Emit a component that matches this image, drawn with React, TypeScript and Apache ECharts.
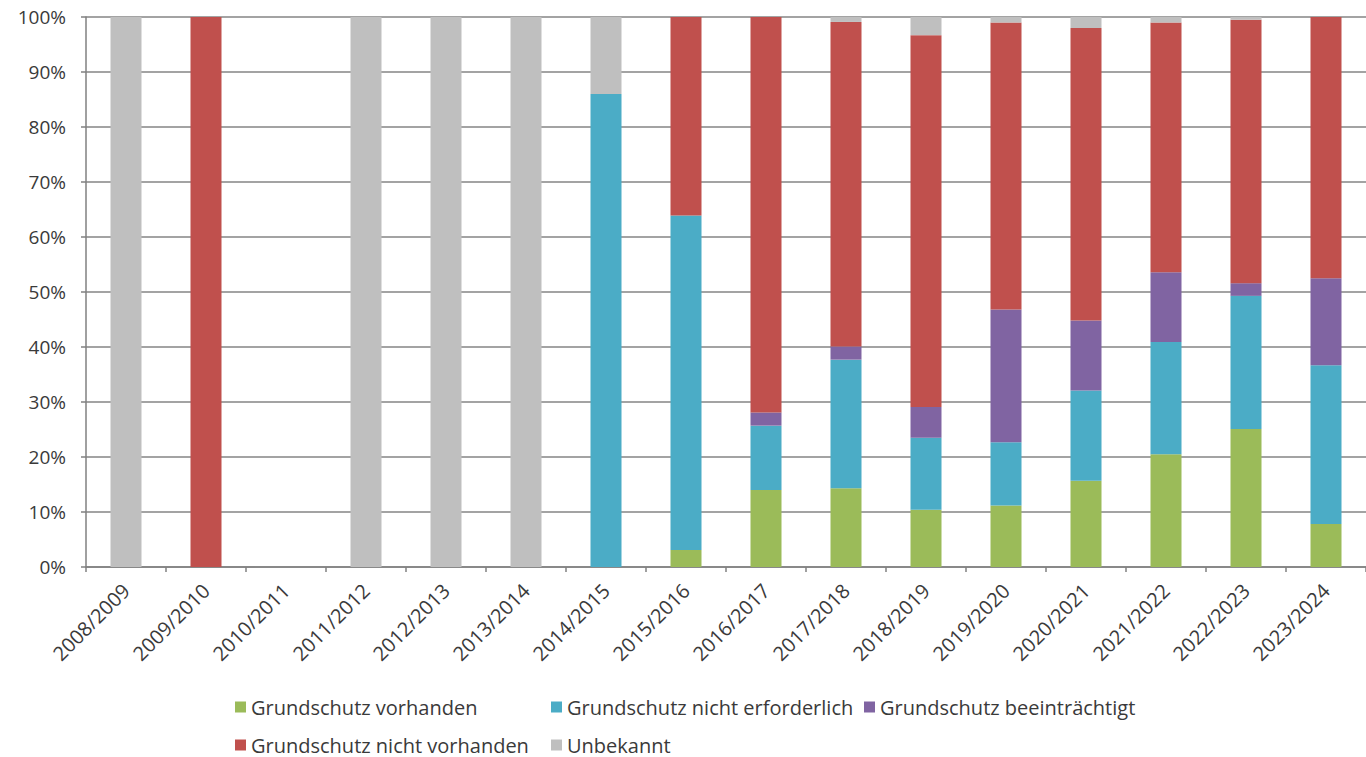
import React, { useEffect, useRef } from "react";
import * as echarts from "echarts";

const categories = [
  "2008/2009", "2009/2010", "2010/2011", "2011/2012", "2012/2013", "2013/2014",
  "2014/2015", "2015/2016", "2016/2017", "2017/2018", "2018/2019", "2019/2020",
  "2020/2021", "2021/2022", "2022/2023", "2023/2024",
];

const vorhanden = [0, 0, 0, 0, 0, 0, 0, 3.1, 14.0, 14.3, 10.4, 11.2, 15.7, 20.5, 25.1, 7.8];
const nichtErforderlich = [0, 0, 0, 0, 0, 0, 86.0, 60.8, 11.7, 23.4, 13.1, 11.5, 16.4, 20.4, 24.2, 28.9];
const beeintraechtigt = [0, 0, 0, 0, 0, 0, 0, 0, 2.4, 2.4, 5.6, 24.1, 12.7, 12.7, 2.3, 15.8];
const nichtVorhanden = [0, 100, 0, 0, 0, 0, 0, 36.1, 71.9, 59.0, 67.6, 52.2, 53.2, 45.4, 47.9, 47.5];
const unbekannt = [100, 0, 0, 100, 100, 100, 14.0, 0, 0, 0.9, 3.3, 1.0, 2.0, 1.0, 0.5, 0];

const seriesNames = [
  "Grundschutz vorhanden",
  "Grundschutz nicht erforderlich",
  "Grundschutz beeinträchtigt",
  "Grundschutz nicht vorhanden",
  "Unbekannt",
];
const seriesColors = ["#9BBB59", "#4BACC6", "#8064A2", "#C0504D", "#BFBFBF"];
const seriesData = [vorhanden, nichtErforderlich, beeintraechtigt, nichtVorhanden, unbekannt];

const FONT = "'Open Sans', sans-serif";
const TEXT = "#3a3a3a";

const legendPos = [
  { left: 235, top: 697 },
  { left: 551, top: 697 },
  { left: 864, top: 697 },
  { left: 235, top: 735 },
  { left: 551, top: 735 },
];

export default function App() {
  const ref = useRef<HTMLDivElement>(null);
  useEffect(() => {
    if (!ref.current) return;
    const chart = echarts.init(ref.current, undefined, { renderer: "svg" });
    chart.setOption({
      animation: false,
      textStyle: { fontFamily: FONT },
      grid: { left: 86, top: 17, width: 1286, height: 550, containLabel: false },
      legend: seriesNames.map((n, i) => ({
        data: [n],
        left: legendPos[i].left,
        top: legendPos[i].top,
        padding: 0,
        icon: "rect",
        itemWidth: 11,
        itemHeight: 11,
        selectedMode: false,
        textStyle: { fontFamily: FONT, fontSize: 20, color: TEXT, lineHeight: 20 },
      })),
      xAxis: {
        type: "category",
        data: categories,
        axisLine: { lineStyle: { color: "#808080", width: 1.5 } },
        axisTick: { show: true, length: 5, lineStyle: { color: "#808080", width: 1.5 } },
        axisLabel: {
          interval: 0,
          rotate: 45,
          margin: 20,
          fontFamily: FONT,
          fontSize: 20,
          color: TEXT,
        },
      },
      yAxis: {
        type: "value",
        min: 0,
        max: 100,
        interval: 10,
        axisLine: { show: true, lineStyle: { color: "#808080", width: 1.5 } },
        axisTick: { show: true, length: 5, lineStyle: { color: "#808080", width: 1.5 } },
        splitLine: { lineStyle: { color: "#858585", width: 1.5 } },
        axisLabel: {
          formatter: "{value}%",
          margin: 20,
          fontFamily: FONT,
          fontSize: 19,
          color: TEXT,
        },
      },
      series: seriesNames.map((n, i) => ({
        name: n,
        type: "bar",
        stack: "total",
        barWidth: 31,
        data: seriesData[i],
        itemStyle: { color: seriesColors[i] },
      })),
    });
    return () => chart.dispose();
  }, []);
  return (
    <div
      ref={ref}
      style={{ position: "fixed", left: 0, top: 0, width: 1366, height: 757, background: "#fff" }}
    />
  );
}
